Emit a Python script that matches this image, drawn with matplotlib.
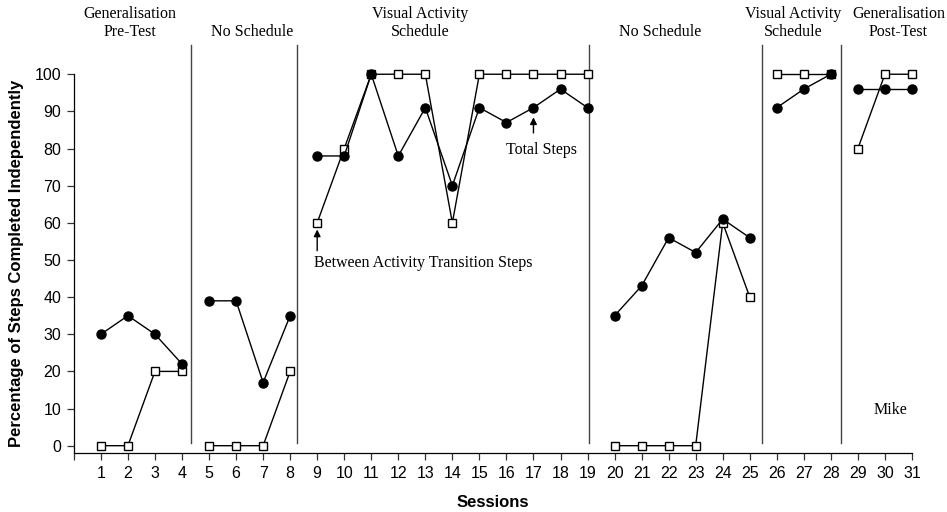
import matplotlib
matplotlib.use("Agg")
import matplotlib.pyplot as plt
import numpy as np

sessions = list(range(1, 32))

# Phase boundaries (session index where each phase starts / ends)
phase_slices = [(1, 4), (5, 8), (9, 19), (20, 25), (26, 28), (29, 31)]
phase_dividers = [4.32, 8.25, 19.05, 25.44, 28.38]
phase_names = ["Generalisation\nPre-Test", "No Schedule", "Visual Activity\nSchedule",
               "No Schedule", "Visual Activity\nSchedule", "Generalisation\nPost-Test"]
phase_label_x = [2.07, 6.6, 12.8, 21.7, 26.6, 30.5]

total_steps = [30, 35, 30, 22,
               39, 39, 17, 35,
               78, 78, 100, 78, 91, 70, 91, 87, 91, 96, 91,
               35, 43, 56, 52, 61, 56,
               91, 96, 100,
               96, 96, 96]

transition_steps = [0, 0, 20, 20,
                    0, 0, 0, 20,
                    60, 80, 100, 100, 100, 60, 100, 100, 100, 100, 100,
                    0, 0, 0, 0, 60, 40,
                    100, 100, 100,
                    80, 100, 100]

serif = ["Liberation Serif", "DejaVu Serif"]
narrow = ["Liberation Sans Narrow", "Liberation Sans", "DejaVu Sans"]

fig = plt.figure(figsize=(9.47, 5.12), dpi=100)
ax = fig.add_axes([0.078, 0.115, 0.885, 0.74])

x = np.array(sessions)
tot = np.array(total_steps)
trn = np.array(transition_steps)

for a, b in phase_slices:
    sel = (x >= a) & (x <= b)
    ax.plot(x[sel], trn[sel], color="black", lw=1.0, marker="s", ms=6,
            mfc="white", mec="black", mew=1.0, clip_on=False, zorder=3)
    ax.plot(x[sel], tot[sel], color="black", lw=1.0, marker="o", ms=6.5,
            mfc="black", mec="black", clip_on=False, zorder=4)

for d in phase_dividers:
    ax.plot([d, d], [0.8, 108], color="#444444", lw=1.0, clip_on=False, zorder=2)

for name, px in zip(phase_names, phase_label_x):
    ax.text(px, 109.2, name, ha="center", va="bottom", fontsize=11.5,
            family=serif, linespacing=1.15)

# Series annotations
ax.annotate("", xy=(17, 88.4), xytext=(17, 84.2),
            arrowprops=dict(arrowstyle="-|>", color="black", lw=1.0,
                            mutation_scale=10, shrinkA=0, shrinkB=0))
ax.text(17.3, 79.6, "Total Steps", ha="center", va="center", fontsize=11.5, family=serif)

ax.annotate("", xy=(9, 58.2), xytext=(9, 52.5),
            arrowprops=dict(arrowstyle="-|>", color="black", lw=1.0,
                            mutation_scale=10, shrinkA=0, shrinkB=0))
ax.text(8.9, 49.2, "Between Activity Transition Steps", ha="left", va="center",
        fontsize=11.5, family=serif)

ax.text(30.2, 9.5, "Mike", ha="center", va="center", fontsize=11.5, family=serif)

ax.set_xlim(0, 31)
ax.set_ylim(-2, 100)
ax.set_xticks(range(0, 32))
ax.set_xticklabels([""] + [str(s) for s in sessions])
ax.set_yticks(range(0, 101, 10))

for lab in ax.get_xticklabels() + ax.get_yticklabels():
    lab.set_family(narrow)
    lab.set_fontsize(11.5)

ax.tick_params(axis="both", direction="out", length=5, width=0.9, color="#333333", pad=4)
ax.spines["top"].set_visible(False)
ax.spines["right"].set_visible(False)
ax.spines["left"].set_linewidth(0.9)
ax.spines["bottom"].set_linewidth(0.9)

ax.set_xlabel("Sessions", fontsize=12, fontweight="bold",
              family=["Liberation Sans", "DejaVu Sans"], labelpad=10)
ax.set_ylabel("Percentage of Steps Completed Independently", fontsize=12, fontweight="bold",
              family=["Liberation Sans", "DejaVu Sans"], labelpad=8)

fig.savefig("out.png", dpi=100)
